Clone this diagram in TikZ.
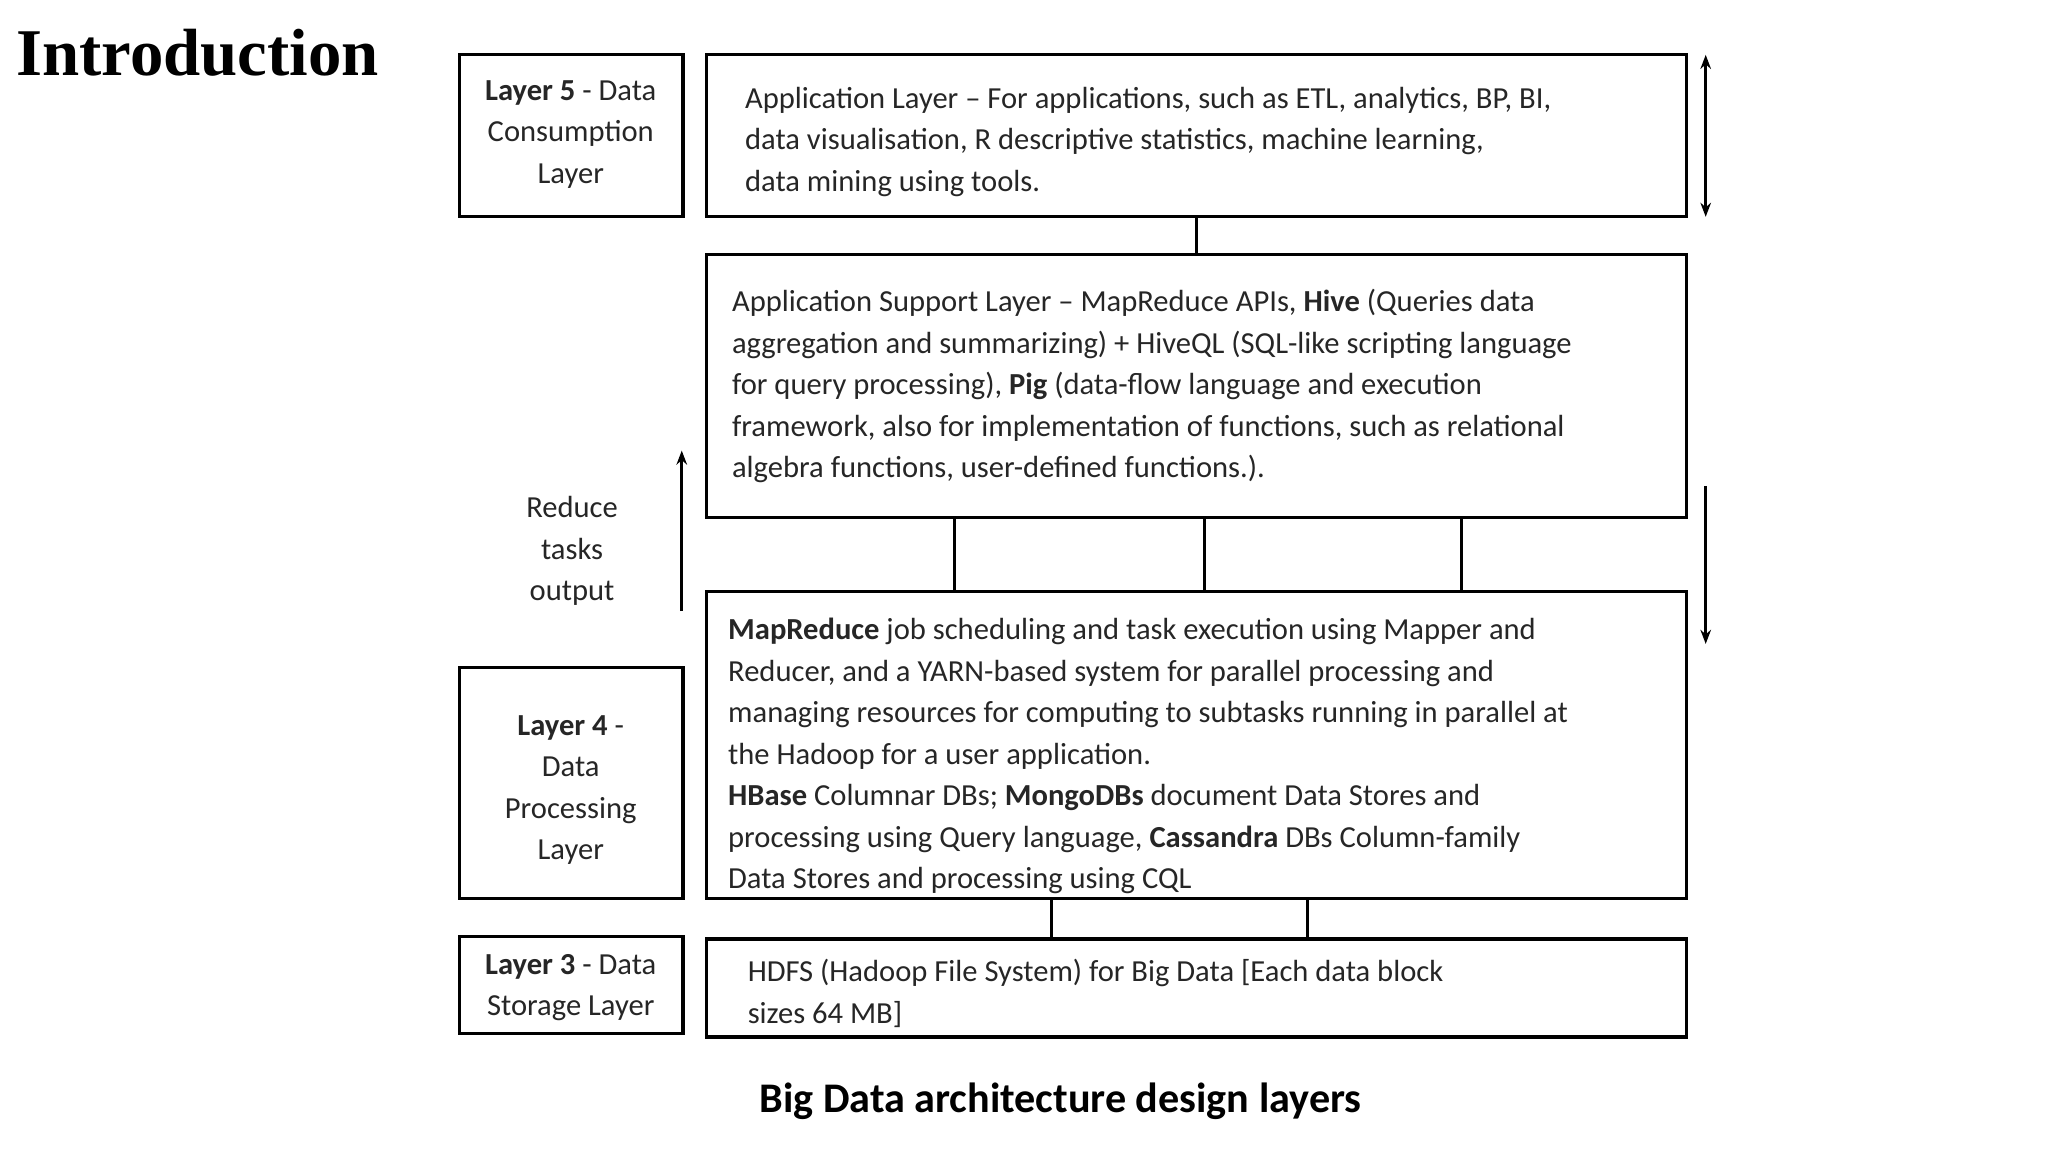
\documentclass[tikz,border=0pt]{standalone}
\usepackage{fontspec}
\setmainfont{Carlito}
\newfontfamily\titlefont{Liberation Serif}
\usetikzlibrary{fit,arrows.meta}
\begin{document}
\begin{tikzpicture}[x=0.01306cm,y=-0.01306cm,
  box/.style={draw=black,line width=0.9pt,inner sep=0pt},
  txt/.style={anchor=north west,align=left,inner sep=0pt,font=\fontsize{8.7}{11.8}\selectfont,text=black!85},
  ltxt/.style={align=center,inner sep=0pt,font=\fontsize{8.7}{11.8}\selectfont,text=black!85},
  conn/.style={line width=0.9pt},
  arr/.style={line width=0.9pt,-{Stealth[length=4pt,width=3pt]}}]
\useasboundingbox (0,0) rectangle (1568.1,882.1);
\node[anchor=west,inner sep=0pt,font=\titlefont\bfseries\fontsize{19}{22}\selectfont] (title) at (12,40) {Introduction};
% boxes
\path (352,42) coordinate (l5a) (523,166) coordinate (l5b);
\node[box,fit=(l5a)(l5b)] (l5) {};
\path (352,511) coordinate (l4a) (523,688) coordinate (l4b);
\node[box,fit=(l4a)(l4b)] (l4) {};
\path (352,717) coordinate (l3a) (523,791) coordinate (l3b);
\node[box,fit=(l3a)(l3b)] (l3) {};
\path (541,42) coordinate (b1a) (1291,166) coordinate (b1b);
\node[box,fit=(b1a)(b1b)] (b1) {};
\path (541,195) coordinate (b2a) (1291,396) coordinate (b2b);
\node[box,fit=(b2a)(b2b)] (b2) {};
\path (541,453) coordinate (b3a) (1291,688) coordinate (b3b);
\node[box,fit=(b3a)(b3b)] (b3) {};
\path (541,719) coordinate (b4a) (1291,794) coordinate (b4b);
\node[box,fit=(b4a)(b4b)] (b4) {};
% left texts
\node[ltxt] (t5) at (437,103) {\textbf{Layer 5} - Data\\Consumption\\Layer};
\node[ltxt] (t4) at (437,605) {\textbf{Layer 4} -\\Data\\Processing\\Layer};
\node[ltxt] (t3) at (437,756) {\textbf{Layer 3} - Data\\Storage Layer};
\node[ltxt] (rt) at (438,422) {Reduce\\tasks\\output};
% main texts
\node[txt] (x1) at (570,66) {Application Layer -- For applications, such as ETL, analytics, BP, BI,\\data visualisation, R descriptive statistics, machine learning,\\data mining using tools.};
\node[txt] (x2) at (560,221) {Application Support Layer -- MapReduce APIs, \textbf{Hive} (Queries data\\aggregation and summarizing) + HiveQL (SQL-like scripting language\\for query processing), \textbf{Pig} (data-flow language and execution\\framework, also for implementation of functions, such as relational\\algebra functions, user-defined functions.).};
\node[txt] (x3) at (557,473) {\textbf{MapReduce} job scheduling and task execution using Mapper and\\Reducer, and a YARN-based system for parallel processing and\\managing resources for computing to subtasks running in parallel at\\the Hadoop for a user application.\\
\textbf{HBase} Columnar DBs; \textbf{MongoDBs} document Data Stores and\\processing using Query language, \textbf{Cassandra} DBs Column-family\\Data Stores and processing using CQL};
\node[txt] (x4) at (572,734) {HDFS (Hadoop File System) for Big Data [Each data block\\sizes 64 MB]};
% connectors
\draw[conn] (b1.south -| 916,0) -- (b2.north -| 916,0);
\foreach \xx in {731,922,1119} \draw[conn] (b2.south -| \xx,0) -- (b3.north -| \xx,0);
\foreach \xx in {805,1001} \draw[conn] (b3.south -| \xx,0) -- (b4.north -| \xx,0);
% arrows
\coordinate (r1) at (1306,42); \coordinate (r2) at (1306,166);
\draw[line width=0.9pt,{Stealth[length=4pt,width=3pt]}-{Stealth[length=4pt,width=3pt]}] (r1) -- (r2);
\coordinate (d1) at (1306,372); \coordinate (d2) at (1306,493);
\draw[arr] (d1) -- (d2);
\coordinate (u1) at (522,468); \coordinate (u2) at (522,345);
\draw[arr] (u1) -- (u2);
\node[inner sep=0pt,font=\bfseries\fontsize{12}{14}\selectfont] (cap) at (812,843) {Big Data architecture design layers};
\end{tikzpicture}
\end{document}
